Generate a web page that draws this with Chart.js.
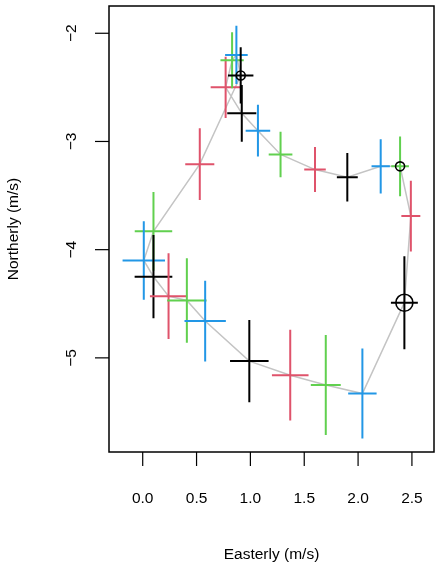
<!DOCTYPE html>
<html>
<head>
<meta charset="utf-8">
<script src="https://cdn.jsdelivr.net/npm/chart.js@4"></script>
<style>
  html, body { margin: 0; padding: 0; background: #fff; }
  #wrap { width: 442px; height: 570px; position: relative; }
</style>
</head>
<body>
<div id="wrap"><canvas id="hodo"></canvas></div>
<script>
// hourly mean wind (m/s) and its uncertainty, in order around the loop
var east = [2.43, 2.49, 2.39, 2.21, 1.90, 1.60, 1.28, 1.07, 0.92, 0.77, 0.83, 0.87,
            0.91, 0.53, 0.10, 0.01, 0.10, 0.24, 0.41, 0.58, 0.99, 1.37, 1.70, 2.04];
var north = [-4.49, -3.69, -3.23, -3.23, -3.33, -3.26, -3.12, -2.90, -2.74, -2.50, -2.25, -2.20,
             -2.39, -3.21, -3.83, -4.10, -4.25, -4.43, -4.47, -4.66, -5.03, -5.16, -5.25, -5.33];
var eastErr = [0.125, 0.088, 0.082, 0.085, 0.097, 0.100, 0.110, 0.114, 0.135, 0.139, 0.108, 0.105,
               0.118, 0.135, 0.174, 0.197, 0.175, 0.173, 0.183, 0.192, 0.179, 0.170, 0.139, 0.132];
var northErr = [0.43, 0.326, 0.277, 0.25, 0.224, 0.208, 0.21, 0.239, 0.262, 0.282, 0.259, 0.27,
                0.26, 0.331, 0.364, 0.363, 0.385, 0.396, 0.391, 0.373, 0.381, 0.419, 0.462, 0.416];

// marked points: big ring on the first, small rings on these
var startPoint = 0;
var smallMarks = [2, 12];

var xTicks = [0, 0.5, 1, 1.5, 2, 2.5];
var xTickLabels = ['0.0', '0.5', '1.0', '1.5', '2.0', '2.5'];
var yTicks = [-2, -3, -4, -5];
var yTickLabels = ['\u22122', '\u22123', '\u22124', '\u22125'];

var xTitle = 'Easterly (m/s)';
var yTitle = 'Northerly (m/s)';

var palette = ['#000000', '#DF536B', '#61D04F', '#2297E6'];
var font = '15.5px "Liberation Sans", Arial, sans-serif';

var loop = east.map(function (e, i) { return { x: e, y: north[i] }; });
loop.push({ x: east[0], y: north[0] });

var rPlot = {
    id: 'rPlot',
    afterDatasetsDraw: function (chart) {
        var ctx = chart.ctx, a = chart.chartArea;
        var x = chart.scales.x, y = chart.scales.y;
        ctx.save();

        // error crosses
        ctx.lineWidth = 2;
        east.forEach(function (e, i) {
            var px = x.getPixelForValue(e), py = y.getPixelForValue(north[i]);
            ctx.strokeStyle = palette[i % 4];
            ctx.beginPath();
            ctx.moveTo(x.getPixelForValue(e - eastErr[i]), py);
            ctx.lineTo(x.getPixelForValue(e + eastErr[i]), py);
            ctx.moveTo(px, y.getPixelForValue(north[i] - northErr[i]));
            ctx.lineTo(px, y.getPixelForValue(north[i] + northErr[i]));
            ctx.stroke();
        });

        // rings
        ctx.strokeStyle = '#000';
        ctx.lineWidth = 1.6;
        ctx.beginPath();
        ctx.arc(x.getPixelForValue(east[startPoint]), y.getPixelForValue(north[startPoint]), 8.5, 0, 2 * Math.PI);
        ctx.stroke();
        smallMarks.forEach(function (i) {
            ctx.beginPath();
            ctx.arc(x.getPixelForValue(east[i]), y.getPixelForValue(north[i]), 4.5, 0, 2 * Math.PI);
            ctx.stroke();
        });

        // box
        ctx.lineWidth = 1.5;
        ctx.strokeRect(a.left, a.top, a.right - a.left, a.bottom - a.top);

        // axes
        ctx.fillStyle = '#000';
        ctx.font = font;
        ctx.lineWidth = 1.2;
        ctx.textAlign = 'center';
        ctx.textBaseline = 'middle';
        xTicks.forEach(function (v, i) {
            var px = x.getPixelForValue(v);
            ctx.beginPath();
            ctx.moveTo(px, a.bottom);
            ctx.lineTo(px, a.bottom + 14);
            ctx.stroke();
            ctx.fillText(xTickLabels[i], px, a.bottom + 47);
        });
        yTicks.forEach(function (v, i) {
            var py = y.getPixelForValue(v);
            ctx.beginPath();
            ctx.moveTo(a.left, py);
            ctx.lineTo(a.left - 14, py);
            ctx.stroke();
            ctx.save();
            ctx.translate(a.left - 37, py);
            ctx.rotate(-Math.PI / 2);
            ctx.fillText(yTickLabels[i], 0, 0);
            ctx.restore();
        });

        ctx.fillText(xTitle, (a.left + a.right) / 2, a.bottom + 103);
        ctx.save();
        ctx.translate(a.left - 95, (a.top + a.bottom) / 2);
        ctx.rotate(-Math.PI / 2);
        ctx.fillText(yTitle, 0, 0);
        ctx.restore();

        ctx.restore();
    }
};

new Chart(document.getElementById('hodo'), {
    type: 'scatter',
    data: {
        datasets: [{
            data: loop,
            showLine: true,
            borderColor: '#C4C4C4',
            borderWidth: 1.5,
            pointRadius: 0,
            tension: 0
        }]
    },
    options: {
        responsive: true,
        maintainAspectRatio: false,
        animation: false,
        layout: { padding: { left: 109, right: 8, top: 6, bottom: 118 } },
        plugins: { legend: { display: false }, tooltip: { enabled: false } },
        scales: {
            x: { type: 'linear', display: false, min: -0.313, max: 2.705 },
            y: { type: 'linear', display: false, min: -5.87, max: -1.748 }
        }
    },
    plugins: [rPlot]
});
</script>
</body>
</html>
